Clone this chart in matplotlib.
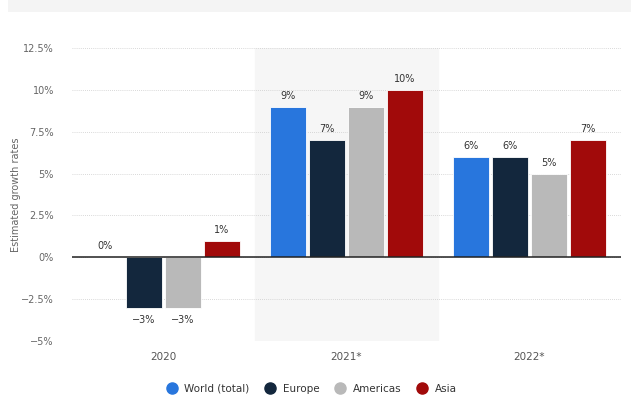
import numpy as np
import matplotlib.pyplot as plt
from matplotlib.patches import Rectangle
from matplotlib.lines import Line2D

years = ['2020', '2021*', '2022*']
series = ['World (total)', 'Europe', 'Americas', 'Asia']
world = [0, 9, 6]
europe = [-3, 7, 6]
americas = [-3, 9, 5]
asia = [1, 10, 7]
colors = ['#2876dd', '#13273d', '#b9b9b9', '#a10a0a']

values = [world, europe, americas, asia]

fig = plt.figure(figsize=(6.31, 4.01), dpi=100)
fig.patches.append(Rectangle((0.013, 0.97), 0.987, 0.03, transform=fig.transFigure,
                             facecolor='#f4f4f4', edgecolor='none', zorder=0))
ax = fig.add_axes([0.114, 0.1496, 0.870, 0.7304])

x = np.arange(len(years))
slot = 0.213
width = 0.197

# highlighted forecast column
ax.axvspan(0.5, 1.5, color='#f6f6f6', zorder=0)

for i, (vals, c) in enumerate(zip(values, colors)):
    pos = x + (i - 1.5) * slot
    ax.bar(pos, vals, width, color=c, edgecolor='white', linewidth=0.6, zorder=3)
    for xp, v in zip(pos, vals):
        if v >= 0:
            ax.text(xp, v + 0.35, f'{v}%', ha='center', va='bottom', fontsize=7,
                    color='#333333', zorder=4)
        else:
            ax.text(xp, v - 0.45, f'\u2212{abs(v)}%', ha='center', va='top', fontsize=7,
                    color='#333333', zorder=4)

ax.axhline(0, color='#222222', linewidth=1.1, zorder=4)

ax.set_xlim(-0.5, 2.5)
ax.set_ylim(-5, 12.5)
yt = [-5, -2.5, 0, 2.5, 5, 7.5, 10, 12.5]
ax.set_yticks(yt)
ax.set_yticklabels([('\u2212' if t < 0 else '') + f'{abs(t):g}%' for t in yt],
                   fontsize=7, color='#666666')
ax.set_xticks(x)
ax.set_xticklabels(years, fontsize=7.5, color='#555555')
ax.tick_params(axis='both', length=0)
ax.tick_params(axis='y', pad=13)
ax.tick_params(axis='x', pad=8)
ax.grid(axis='y', color='#cccccc', linestyle=(0, (1, 1.5)), linewidth=0.6, zorder=1)
for s in ax.spines.values():
    s.set_visible(False)

ax.set_ylabel('Estimated growth rates', fontsize=7, color='#666666')
ax.yaxis.set_label_coords(-0.093, 0.5)

handles = [Line2D([], [], marker='o', linestyle='none', markersize=8,
                  markerfacecolor=c, markeredgecolor=c) for c in colors]
fig.legend(handles, series, loc='center', bbox_to_anchor=(0.49, 0.03), ncol=4,
           frameon=False, fontsize=7.5, handletextpad=0.2, columnspacing=1.0,
           labelcolor='#333333')

fig.savefig('out.png', dpi=100)
